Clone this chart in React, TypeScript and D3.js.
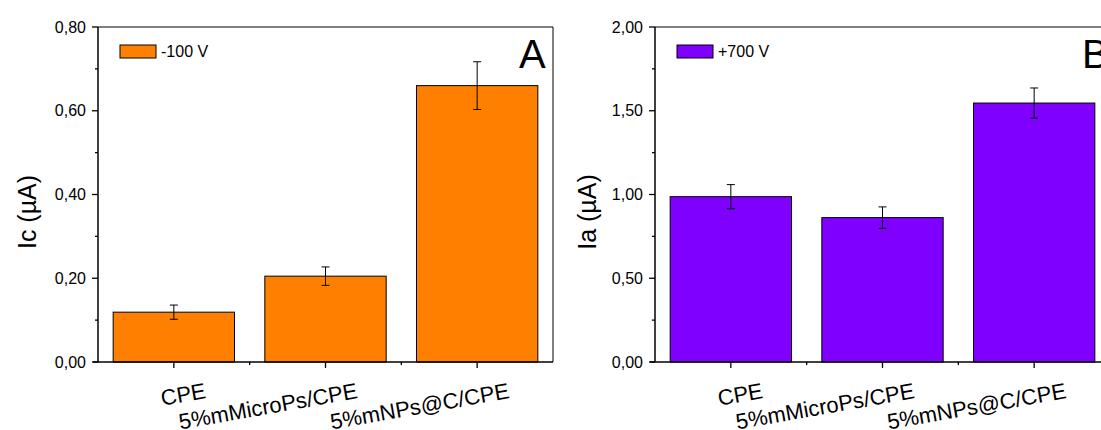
import React from "react";
import * as d3 from "d3";

const categories = ["CPE", "5%mMicroPs/CPE", "5%mNPs@C/CPE"];

const valuesA = [0.119, 0.205, 0.66];
const errorsA = [0.017, 0.022, 0.057];
const ticksA = [0, 0.2, 0.4, 0.6, 0.8];
const minorTicksA = [0.1, 0.3, 0.5, 0.7];

const valuesB = [0.987, 0.862, 1.546];
const errorsB = [0.072, 0.064, 0.09];
const ticksB = [0, 0.5, 1.0, 1.5, 2.0];
const minorTicksB = [0.25, 0.75, 1.25, 1.75];

const FONT = "Arial, 'Liberation Sans', sans-serif";

type PanelProps = {
  x0: number;
  x1: number;
  values: number[];
  errors: number[];
  ticks: number[];
  minor: number[];
  yMax: number;
  color: string;
  yTitle: string;
  yTitleX: number;
  legend: string;
  letter: string;
  letterX: number;
};

function Panel(p: PanelProps) {
  const top = 27;
  const bottom = 362;
  const y = d3.scaleLinear().domain([0, p.yMax]).range([bottom, top]);
  const x = d3
    .scaleBand<string>()
    .domain(categories)
    .range([p.x0, p.x1])
    .paddingInner(0.2)
    .paddingOuter(0.1);
  const step = x.step();
  const bw = x.bandwidth();
  const fmt = (v: number) => d3.format(".2f")(v).replace(".", ",");
  return (
    <g>
      {categories.map((c, i) => (
        <rect
          key={c}
          x={x(c)!}
          y={y(p.values[i])}
          width={bw}
          height={bottom - y(p.values[i])}
          fill={p.color}
          stroke="#000"
          strokeWidth={1}
        />
      ))}
      {categories.map((c, i) => {
        const cx = x(c)! + bw / 2;
        const hi = y(p.values[i] + p.errors[i]);
        const lo = y(p.values[i] - p.errors[i]);
        return (
          <g key={"e" + c} stroke="#000" strokeWidth={1}>
            <line x1={cx} x2={cx} y1={hi} y2={lo} />
            <line x1={cx - 4} x2={cx + 4} y1={hi} y2={hi} />
            <line x1={cx - 4} x2={cx + 4} y1={lo} y2={lo} />
          </g>
        );
      })}
      <line x1={p.x0} x2={p.x1} y1={top} y2={top} stroke="#000" strokeWidth={1} />
      <line x1={p.x1} x2={p.x1} y1={top} y2={bottom} stroke="#000" strokeWidth={1} />
      <line x1={p.x0} x2={p.x0} y1={top} y2={bottom} stroke="#000" strokeWidth={1.5} />
      <line x1={p.x0 - 5} x2={p.x1} y1={bottom} y2={bottom} stroke="#000" strokeWidth={1.5} />
      {p.ticks.map((t) => (
        <g key={"t" + t}>
          <line x1={p.x0 - 6} x2={p.x0} y1={y(t)} y2={y(t)} stroke="#000" strokeWidth={1.3} />
          <text
            x={p.x0 - 12}
            y={y(t)}
            dy="0.35em"
            textAnchor="end"
            fontSize={16}
            fontFamily={FONT}
            fill="#000"
          >
            {fmt(t)}
          </text>
        </g>
      ))}
      {p.minor.map((t) => (
        <line key={"m" + t} x1={p.x0 - 3} x2={p.x0} y1={y(t)} y2={y(t)} stroke="#000" strokeWidth={1.3} />
      ))}
      {categories.map((c, i) => {
        const cx = x(c)! + bw / 2;
        return (
          <g key={"x" + c}>
            <line x1={cx} x2={cx} y1={bottom} y2={bottom + 6} stroke="#000" strokeWidth={1.3} />
            {i < categories.length - 1 && (
              <line
                x1={cx + step / 2}
                x2={cx + step / 2}
                y1={bottom}
                y2={bottom + 3}
                stroke="#000"
                strokeWidth={1.3}
              />
            )}
            <text
              transform={`translate(${cx + 33},${398}) rotate(-10)`}
              textAnchor="end"
              fontSize={22}
              fontFamily={FONT}
              fill="#000"
            >
              {c}
            </text>
          </g>
        );
      })}
      <text
        transform={`translate(${p.yTitleX},${212}) rotate(-90)`}
        textAnchor="middle"
        dy="0.35em"
        fontSize={25}
        fontFamily={FONT}
        fill="#000"
      >
        {p.yTitle}
      </text>
      <rect
        x={p.x0 + 22}
        y={45}
        width={36}
        height={13}
        fill={p.color}
        stroke="#000"
        strokeWidth={1}
      />
      <text x={p.x0 + 63} y={57} fontSize={16} fontFamily={FONT} fill="#000">
        {p.legend}
      </text>
      <text x={p.letterX} y={68} fontSize={40} fontFamily={FONT} fill="#000">
        {p.letter}
      </text>
    </g>
  );
}

export default function App() {
  return (
    <svg
      width={1101}
      height={430}
      style={{ position: "fixed", left: 0, top: 0, background: "#fff" }}
    >
      <rect width={1101} height={430} fill="#fff" />
      <Panel
        x0={98}
        x1={553}
        values={valuesA}
        errors={errorsA}
        ticks={ticksA}
        minor={minorTicksA}
        yMax={0.8}
        color="#FF8000"
        yTitle="Ic (µA)"
        yTitleX={27}
        legend="-100 V"
        letter="A"
        letterX={519}
      />
      <Panel
        x0={655}
        x1={1110}
        values={valuesB}
        errors={errorsB}
        ticks={ticksB}
        minor={minorTicksB}
        yMax={2.0}
        color="#8000FF"
        yTitle="Ia (µA)"
        yTitleX={587}
        legend="+700 V"
        letter="B"
        letterX={1082}
      />
    </svg>
  );
}
